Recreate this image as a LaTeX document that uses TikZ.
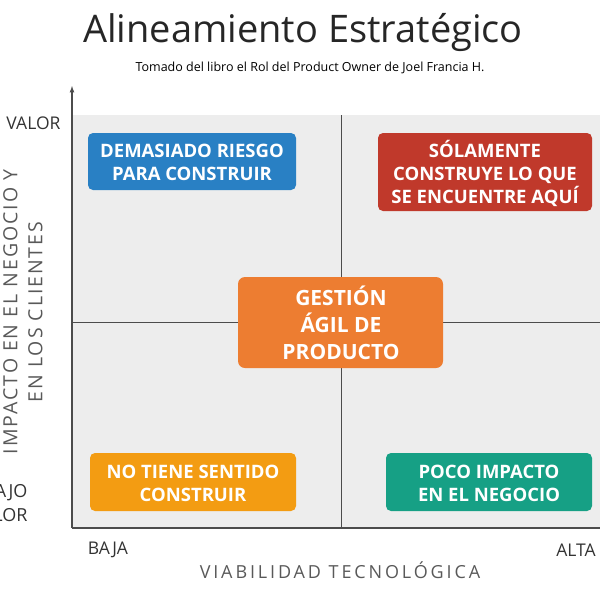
\documentclass[tikz,border=0pt]{standalone}
\usepackage{fontspec}
\setmainfont{Open Sans}
\begin{document}
\begin{tikzpicture}[x=1pt,y=-1pt,
 box/.style={rounded corners=5pt,text=white,font=\bfseries\fontsize{18.5}{23}\selectfont,align=center,inner sep=0},
 ax/.style={gray!60!black,line width=1.2pt},
 lab/.style={text=black!80,font=\fontsize{17.5}{21}\selectfont}]
\useasboundingbox (0,0) rectangle (600,600);
\clip (0,0) rectangle (600,600);
\fill[black!7] (72,115) rectangle (600,528);
\draw[black!70,line width=1pt] (341,115) -- (341,528) (72,322) -- (600,322);
\coordinate (o) at (72,528);
\coordinate (top) at (72,86);
\coordinate (right) at (600,528);
\draw[ax,-latex] (o) -- (top);
\draw[ax] (o) -- (right);
\fill[rounded corners=5pt,fill={rgb,255:red,41;green,128;blue,196}] (88,133) rectangle (296,190);
\node[box] (b1) at (192,162) {DEMASIADO RIESGO\\PARA CONSTRUIR};
\fill[rounded corners=5pt,fill={rgb,255:red,192;green,57;blue,43}] (378,133) rectangle (592,211);
\node[box] (b2) at (485,173) {SÓLAMENTE\\CONSTRUYE LO QUE\\SE ENCUENTRE AQUÍ};
\fill[rounded corners=7pt,fill={rgb,255:red,237;green,125;blue,49}] (238,277) rectangle (443,368);
\node[box,font=\bfseries\fontsize{21}{27}\selectfont] (b3) at (341,323) {GESTIÓN\\ÁGIL DE\\PRODUCTO};
\fill[rounded corners=5pt,fill={rgb,255:red,243;green,156;blue,18}] (90,453) rectangle (296,511);
\node[box] (b4) at (193,483) {NO TIENE SENTIDO\\CONSTRUIR};
\fill[rounded corners=5pt,fill={rgb,255:red,22;green,160;blue,133}] (386,453) rectangle (592,511);
\node[box] (b5) at (489,483) {POCO IMPACTO\\EN EL NEGOCIO};
\node[font=\fontsize{38}{42}\selectfont,text=black!85] (t) at (303,33) {Alineamiento Estratégico};
\node[font=\fontsize{12.5}{14}\selectfont] (st) at (310,68) {Tomado del libro el Rol del Product Owner de Joel Francia H.};
\node[lab,anchor=east] (v) at (64,123) {VALOR};
\node[lab,anchor=east,align=right,font=\fontsize{18}{24}\selectfont] (bv) at (31,503) {BAJO\\VALOR};
\node[rotate=90,align=center,font=\fontsize{19.5}{25}\selectfont,text=black!65] (yl) at (23,312) {\addfontfeature{LetterSpace=10}IMPACTO EN EL NEGOCIO Y\\\addfontfeature{LetterSpace=10}EN LOS CLIENTES};
\node[lab] (bj) at (108,550) {BAJA};
\node[lab] (al) at (576,550) {ALTA};
\node[lab,text=black!65,font=\fontsize{18}{21}\selectfont] (vt) at (340,570) {\addfontfeature{LetterSpace=16}VIABILIDAD TECNOLÓGICA};
\end{tikzpicture}
\end{document}
